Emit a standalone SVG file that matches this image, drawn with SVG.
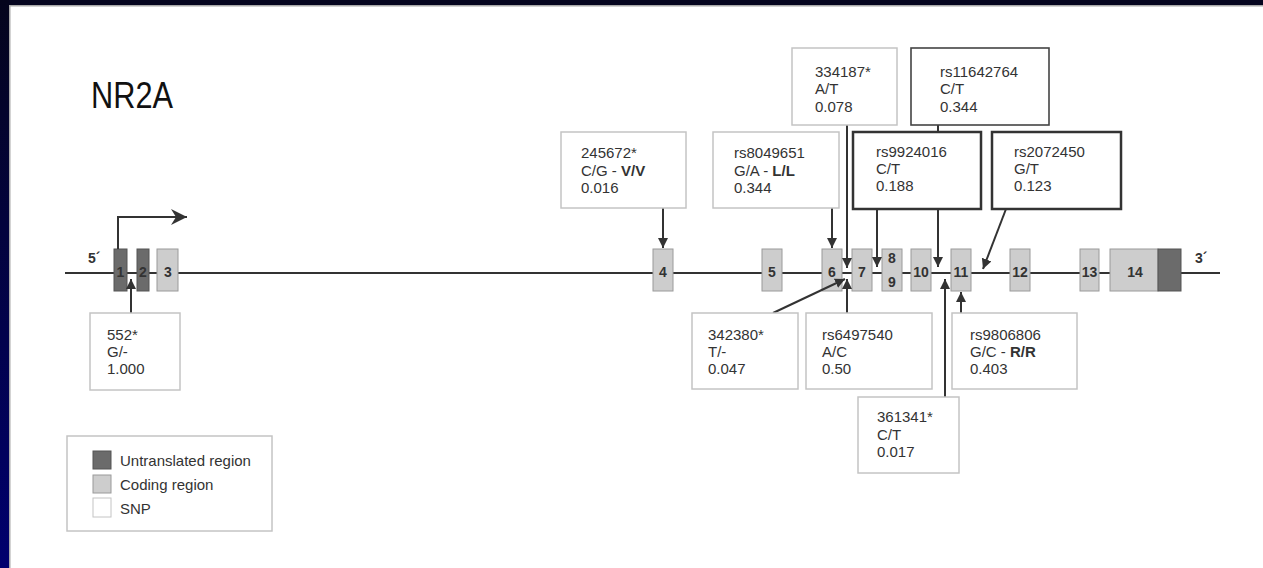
<svg xmlns="http://www.w3.org/2000/svg" width="1263" height="568" viewBox="0 0 1263 568">
<style>
.ex{stroke:#9a9a9a;stroke-width:1}
.utr{fill:#6b6b6b;stroke:#555}
.cod{fill:#cdcdcd}
.el{font-family:"Liberation Sans",Arial,sans-serif;font-weight:bold;font-size:14px;fill:#333;text-anchor:middle}
.snp{fill:#fff;stroke:#c4c4c4;stroke-width:1.5}
.snpk{fill:#fff;stroke:#333;stroke-width:2.5}
.snpm{fill:#fff;stroke:#444;stroke-width:1.6}
.t{font-family:"Liberation Sans",Arial,sans-serif;font-size:15px;fill:#333}
.b{font-weight:bold}
.c{stroke:#333;stroke-width:2;fill:none}
.lg{font-family:"Liberation Sans",Arial,sans-serif;font-size:15px;fill:#333}
</style>
<defs>
<linearGradient id="side" x1="0" y1="0" x2="0" y2="1">
<stop offset="0" stop-color="#05051c"/>
<stop offset="1" stop-color="#00006e"/>
</linearGradient>
<marker id="ah" markerUnits="userSpaceOnUse" markerWidth="12" markerHeight="12" refX="10" refY="5.5" orient="auto">
<path d="M0,0.5 L10,5.5 L0,10.5 z" fill="#333"/>
</marker>
<marker id="ahp" markerUnits="userSpaceOnUse" markerWidth="18" markerHeight="16" refX="16" refY="8" orient="auto">
<path d="M0,0 L16,8 L0,16 L5,8 z" fill="#333"/>
</marker>
</defs>
<rect x="0" y="0" width="1263" height="568" fill="#fff"/>
<rect x="0" y="0" width="1263" height="5" fill="#05051f"/>
<rect x="0" y="0" width="9" height="568" fill="url(#side)"/>
<rect x="9" y="5" width="1254" height="1.5" fill="#a8a8a8"/>
<rect x="9" y="5" width="1.5" height="563" fill="#a8a8a8"/>

<text x="91" y="108" font-family="Liberation Sans,Arial,sans-serif" font-size="36" fill="#111" textLength="82" lengthAdjust="spacingAndGlyphs">NR2A</text>

<g id="backbone">
<line x1="65" y1="273" x2="1220" y2="273" stroke="#333" stroke-width="2"/>
<text x="88" y="263" class="el" style="text-anchor:start">5´</text>
<text x="1195" y="263" class="el" style="text-anchor:start">3´</text>
</g>

<g id="exon1"><rect x="114" y="249" width="13" height="42" class="ex utr"/><text x="120.5" y="277" class="el">1</text></g>
<g id="exon2"><rect x="137" y="249" width="12" height="42" class="ex utr"/><text x="143" y="277" class="el">2</text></g>
<g id="exon3"><rect x="157" y="249" width="21" height="42" class="ex cod"/><text x="168" y="277" class="el">3</text></g>
<g id="exon4"><rect x="653" y="249" width="20" height="42" class="ex cod"/><text x="663" y="277" class="el">4</text></g>
<g id="exon5"><rect x="762" y="249" width="20" height="42" class="ex cod"/><text x="772" y="277" class="el">5</text></g>
<g id="exon6"><rect x="822" y="249" width="20" height="42" class="ex cod"/><text x="832" y="277" class="el">6</text></g>
<g id="exon7"><rect x="852" y="249" width="20" height="42" class="ex cod"/><text x="862" y="277" class="el">7</text></g>
<g id="exon89"><rect x="882" y="249" width="20" height="42" class="ex cod"/><text x="892" y="263" class="el">8</text><text x="892" y="287" class="el">9</text></g>
<g id="exon10"><rect x="911" y="249" width="20" height="42" class="ex cod"/><text x="921" y="277" class="el">10</text></g>
<g id="exon11"><rect x="951" y="249" width="20" height="42" class="ex cod"/><text x="961" y="277" class="el">11</text></g>
<g id="exon12"><rect x="1010" y="249" width="20" height="42" class="ex cod"/><text x="1020" y="277" class="el">12</text></g>
<g id="exon13"><rect x="1080" y="249" width="19" height="42" class="ex cod"/><text x="1089.5" y="277" class="el">13</text></g>
<g id="exon14"><rect x="1110" y="249" width="48" height="42" class="ex cod"/><rect x="1158" y="249" width="23" height="42" class="ex utr"/><text x="1135" y="277" class="el">14</text></g>

<g id="connectors">
<path d="M118,249 V217 H187" class="c" stroke-width="2.5" marker-end="url(#ahp)"/>
<line x1="131" y1="313" x2="131" y2="279" class="c" marker-end="url(#ah)"/>
<line x1="663" y1="208" x2="663" y2="248" class="c" marker-end="url(#ah)"/>
<line x1="832" y1="208" x2="832" y2="248" class="c" marker-end="url(#ah)"/>
<line x1="847" y1="125" x2="847" y2="268" class="c" marker-end="url(#ah)"/>
<line x1="877" y1="209" x2="877" y2="267" class="c" marker-end="url(#ah)"/>
<line x1="938" y1="125" x2="938" y2="267" class="c" marker-end="url(#ah)"/>
<line x1="1006" y1="209" x2="983" y2="269" class="c" marker-end="url(#ah)"/>
<line x1="773" y1="313" x2="845" y2="279" class="c" marker-end="url(#ah)"/>
<line x1="847" y1="313" x2="847" y2="279" class="c" marker-end="url(#ah)"/>
<line x1="945" y1="397" x2="945" y2="279" class="c" marker-end="url(#ah)"/>
<line x1="961" y1="313" x2="961" y2="292" class="c" marker-end="url(#ah)"/>
</g>

<g id="snp552"><rect x="90" y="313" width="90" height="77" class="snp"/>
<text class="t" x="107" y="340">552*</text><text class="t" x="107" y="357">G/-</text><text class="t" x="107" y="374">1.000</text></g>

<g id="snp245672"><rect x="561" y="132" width="125" height="76" class="snp"/>
<text class="t" x="581" y="158">245672*</text><text class="t" x="581" y="176">C/G - <tspan class="b">V/V</tspan></text><text class="t" x="581" y="193">0.016</text></g>

<g id="snp_rs8049651"><rect x="713" y="132" width="126" height="76" class="snp"/>
<text class="t" x="734" y="158">rs8049651</text><text class="t" x="734" y="176">G/A - <tspan class="b">L/L</tspan></text><text class="t" x="734" y="193">0.344</text></g>

<g id="snp334187"><rect x="792" y="48" width="105" height="77" class="snp"/>
<text class="t" x="815" y="77">334187*</text><text class="t" x="815" y="94">A/T</text><text class="t" x="815" y="112">0.078</text></g>

<g id="snp_rs11642764"><rect x="911" y="48" width="138" height="77" class="snpm"/>
<text class="t" x="940" y="77">rs11642764</text><text class="t" x="940" y="94">C/T</text><text class="t" x="940" y="112">0.344</text></g>

<g id="snp_rs9924016"><rect x="853" y="132" width="128" height="77" class="snpk"/>
<text class="t" x="876" y="157">rs9924016</text><text class="t" x="876" y="174">C/T</text><text class="t" x="876" y="191">0.188</text></g>

<g id="snp_rs2072450"><rect x="992" y="132" width="129" height="77" class="snpk"/>
<text class="t" x="1014" y="157">rs2072450</text><text class="t" x="1014" y="174">G/T</text><text class="t" x="1014" y="191">0.123</text></g>

<g id="snp342380"><rect x="692" y="313" width="106" height="76" class="snp"/>
<text class="t" x="708" y="340">342380*</text><text class="t" x="708" y="357">T/-</text><text class="t" x="708" y="374">0.047</text></g>

<g id="snp_rs6497540"><rect x="806" y="313" width="126" height="76" class="snp"/>
<text class="t" x="822" y="340">rs6497540</text><text class="t" x="822" y="357">A/C</text><text class="t" x="822" y="374">0.50</text></g>

<g id="snp_rs9806806"><rect x="952" y="313" width="125" height="76" class="snp"/>
<text class="t" x="970" y="340">rs9806806</text><text class="t" x="970" y="357">G/C - <tspan class="b">R/R</tspan></text><text class="t" x="970" y="374">0.403</text></g>

<g id="snp361341"><rect x="858" y="397" width="101" height="76" class="snp"/>
<text class="t" x="877" y="422">361341*</text><text class="t" x="877" y="440">C/T</text><text class="t" x="877" y="457">0.017</text></g>

<g id="legend"><rect x="67" y="436" width="205" height="95" fill="#fff" stroke="#c4c4c4" stroke-width="1.5"/>
<rect x="93" y="451" width="18" height="18" class="ex utr"/>
<rect x="93" y="475" width="18" height="18" class="ex cod"/>
<rect x="93" y="498" width="18" height="19" fill="#fff" stroke="#c4c4c4" stroke-width="1"/>
<text class="lg" x="120" y="466">Untranslated region</text>
<text class="lg" x="120" y="490">Coding region</text>
<text class="lg" x="120" y="514">SNP</text></g>
</svg>
